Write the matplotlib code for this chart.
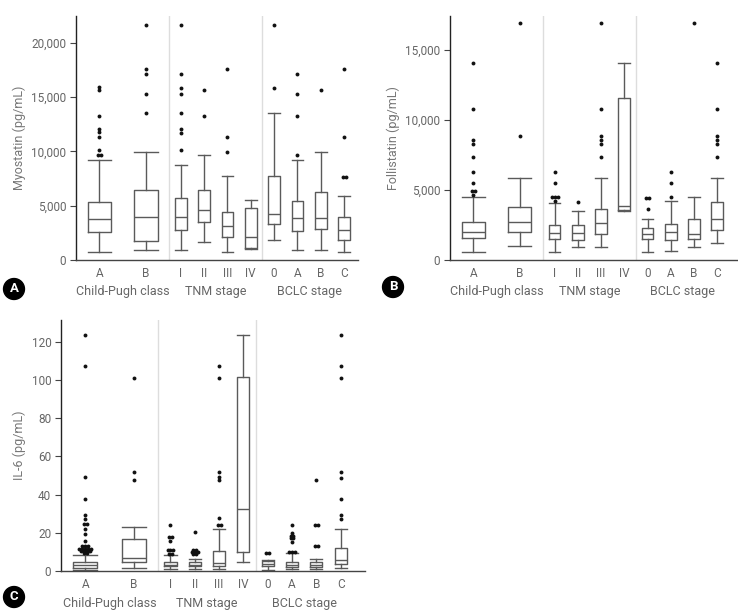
import matplotlib
matplotlib.use("Agg")
import matplotlib.pyplot as plt
from matplotlib import font_manager
from matplotlib.transforms import blended_transform_factory
from collections import Counter

avail = {f.name for f in font_manager.fontManager.ttflist}
fam = [f for f in ["Liberation Sans Narrow", "Roboto", "Open Sans", "DejaVu Sans"] if f in avail]
plt.rcParams['font.family'] = fam

# ---------------- data ----------------
categories = ["A", "B", "I", "II", "III", "IV", "0", "A", "B", "C"]
groups = ["Child-Pugh class", "TNM stage", "BCLC stage"]

# Panel A: Myostatin (pg/mL)
myo_lo = [770, 920, 920, 1690, 770, 1010, 1870, 920, 920, 770]
myo_q1 = [2570, 1780, 2790, 3520, 2080, 1100, 3340, 2670, 2820, 1840]
myo_med = [3740, 3950, 3950, 4590, 3090, 2140, 4230, 3890, 3890, 2730]
myo_q3 = [5330, 6460, 5670, 6430, 4440, 4750, 7690, 5420, 6220, 3980]
myo_hi = [9190, 9920, 8730, 9650, 7690, 5510, 13540, 9190, 9920, 5850]
myo_out = [
    [15960, 15650, 13290, 12070, 11760, 11360, 10080, 9680, 9680],
    [21650, 17550, 17090, 15290, 13570],
    [21650, 17090, 15800, 15290, 13540, 12070, 11670, 10080],
    [15650, 13290],
    [17550, 11360, 9920],
    [],
    [21650, 15800],
    [17090, 15290, 13290, 9680],
    [15650],
    [17550, 11360, 7630, 7630],
]

# Panel B: Follistatin (pg/mL)
fol_lo = [570, 1000, 570, 950, 900, 3500, 570, 640, 900, 1190]
fol_q1 = [1550, 2000, 1500, 1450, 1880, 3550, 1500, 1450, 1500, 2140]
fol_med = [2020, 2710, 1930, 1930, 2640, 3830, 1880, 2020, 1880, 2950]
fol_q3 = [2740, 3790, 2480, 2480, 3640, 11570, 2260, 2570, 2930, 4120]
fol_hi = [4480, 5830, 4070, 3500, 5830, 14070, 2930, 4190, 4480, 5830]
fol_out = [
    [14070, 10810, 8600, 8310, 7400, 6290, 5520, 4900, 4900, 4650],
    [16930, 8880],
    [6260, 5500, 4480, 4480, 4480, 4190],
    [4170],
    [16930, 10810, 8880, 8600, 8310, 7400],
    [],
    [4430, 4430, 3670],
    [6260, 5500, 4480],
    [16930],
    [14070, 10810, 8880, 8600, 8310, 7400],
]

# Panel C: IL-6 (pg/mL)
il6_lo = [0.7, 1.7, 1.2, 1.2, 1.0, 4.5, 0.6, 1.0, 1.0, 1.7]
il6_q1 = [1.8, 4.5, 2.4, 2.4, 2.6, 10.0, 2.4, 2.1, 2.1, 3.8]
il6_med = [3.0, 7.0, 3.3, 3.3, 4.0, 32.3, 3.8, 3.3, 3.0, 5.6]
il6_q3 = [4.6, 16.9, 4.7, 4.7, 10.5, 101.7, 5.2, 4.7, 4.8, 12.2]
il6_hi = [8.2, 23.2, 8.2, 6.5, 22.2, 123.5, 5.9, 9.3, 6.3, 22.2]
il6_out = [
    [123.5, 107.2, 49.3, 37.9, 29.2, 27.4, 24.8, 24.8, 22.2, 19.2, 15.5,
     12.9, 12.9, 12.9, 11.7, 11.7, 11.7, 11.7, 11.7, 10.5, 10.5, 10.5, 10.5, 9.3, 9.3],
    [101.1, 52.1, 47.5],
    [23.9, 17.8, 17.8, 15.7, 10.8, 10.8, 10.8, 9.1, 9.1],
    [20.4, 11.2, 11.2, 10.0, 10.0, 10.0, 8.7, 8.7],
    [107.2, 101.0, 52.1, 49.3, 47.5, 28.0, 24.1, 24.1],
    [],
    [9.4, 9.4],
    [23.9, 19.9, 18.2, 18.2, 17.1, 17.1, 15.2, 10.0, 10.0, 10.0],
    [47.5, 24.1, 24.1, 12.9, 12.9],
    [123.5, 107.2, 101.0, 52.1, 48.9, 37.7, 29.2, 27.0],
]

# ---------------- layout ----------------
positions = [1, 3, 4.5, 5.5, 6.5, 7.5, 8.5, 9.5, 10.5, 11.5]
widths = [1.0, 1.0] + [0.5] * 8
separators = [4, 8]
group_centers = [2, 6, 10]

W, H = 738, 614
fig = plt.figure(figsize=(W / 100, H / 100), dpi=100)

def add_axes(left, top, width, bottom):
    return fig.add_axes([left / W, 1 - bottom / H, width / W, (bottom - top) / H])

BOX = "#5a5a5a"
TXT = "#666666"

def panel(ax, lo, q1, med, q3, hi, out, ylim, yticks, yticklabels, ylabel, xmax, dx):
    stats = []
    for i in range(len(categories)):
        stats.append(dict(med=med[i], q1=q1[i], q3=q3[i], whislo=lo[i],
                          whishi=hi[i], fliers=[]))
    lp = dict(color=BOX, linewidth=1.0)
    ax.bxp(stats, positions=positions, widths=widths, showfliers=False,
           boxprops=lp, whiskerprops=lp, capprops=lp, medianprops=lp,
           capwidths=widths, patch_artist=False)
    # fliers with side-by-side placement for repeated values
    for i, vals in enumerate(out):
        cnt = Counter(vals)
        for v, n in cnt.items():
            for k in range(n):
                x = positions[i] + (k - (n - 1) / 2) * dx
                ax.plot(x, v, 'o', color='#111111', ms=2.8, mew=0, zorder=5)
    for s in separators:
        ax.axvline(s, color='#dddddd', lw=1.0, zorder=0)
    ax.set_xlim(0, xmax)
    ax.set_ylim(*ylim)
    ax.set_yticks(yticks)
    ax.set_yticklabels(yticklabels)
    ax.set_xticks(positions)
    ax.set_xticklabels(categories)
    ax.tick_params(axis='x', length=0, pad=5, labelsize=8.5, labelcolor=TXT)
    ax.tick_params(axis='y', length=4, width=0.8, color='#444444', labelsize=8.5,
                   labelcolor=TXT, pad=3)
    for sp in ['top', 'right']:
        ax.spines[sp].set_visible(False)
    ax.spines['left'].set_color('#222222')
    ax.spines['bottom'].set_color('#444444')
    ax.spines['left'].set_linewidth(1.0)
    ax.spines['bottom'].set_linewidth(1.0)
    ax.set_ylabel(ylabel, color='#777777', fontsize=9, labelpad=4)
    tr = blended_transform_factory(ax.transData, ax.transAxes)
    for gx, g in zip(group_centers, groups):
        ax.text(gx, -0.13, g, transform=tr, ha='center', va='center',
                fontsize=9, color=TXT)

def letter(x, y, s):
    fig.text(x / W, 1 - y / H, s, color='white', fontsize=9.5, fontweight='bold',
             ha='center', va='center',
             bbox=dict(boxstyle='circle,pad=0.3', fc='black', ec='black'))

axA = add_axes(76, 16, 282, 260)
panel(axA, myo_lo, myo_q1, myo_med, myo_q3, myo_hi, myo_out, (0, 22450),
      [0, 5000, 10000, 15000, 20000], ["0", "5,000", "10,000", "15,000", "20,000"],
      "Myostatin (pg/mL)", 12.1, 0.13)

axB = add_axes(450, 16, 287, 260)
panel(axB, fol_lo, fol_q1, fol_med, fol_q3, fol_hi, fol_out, (0, 17450),
      [0, 5000, 10000, 15000], ["0", "5,000", "10,000", "15,000"],
      "Follistatin (pg/mL)", 12.35, 0.13)

axC = add_axes(61, 320, 304, 571)
panel(axC, il6_lo, il6_q1, il6_med, il6_q3, il6_hi, il6_out, (0, 131.5),
      [0, 20, 40, 60, 80, 100, 120], ["0", "20", "40", "60", "80", "100", "120"],
      "IL-6 (pg/mL)", 12.5, 0.12)

letter(14, 289, "A")
letter(393, 287, "B")
letter(14, 597, "C")

fig.savefig("out.png", dpi=100)
